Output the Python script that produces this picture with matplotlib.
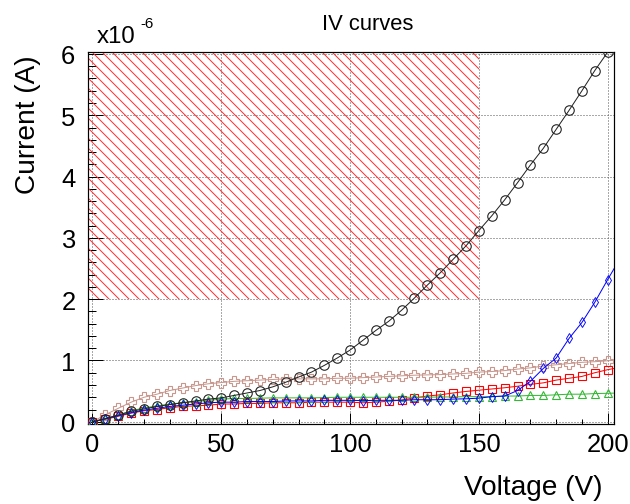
import matplotlib
matplotlib.use("Agg")
import matplotlib.pyplot as plt
from matplotlib.ticker import MultipleLocator, FuncFormatter

# ---------------- data (current in units of 1e-6 A) ----------------
voltage = [0, 5, 10, 15, 20, 25, 30, 35, 40, 45, 50, 55, 60, 65, 70, 75, 80, 85, 90, 95,
           100, 105, 110, 115, 120, 125, 130, 135, 140, 145, 150, 155, 160, 165, 170, 175,
           180, 185, 190, 195, 200]
voltage_ext = voltage + [205]

current_black = [0.0, 0.05, 0.11, 0.17, 0.21, 0.25, 0.28, 0.31, 0.34, 0.37, 0.39, 0.43, 0.47,
                 0.51, 0.57, 0.645, 0.73, 0.81, 0.92, 1.04, 1.17, 1.33, 1.49, 1.64, 1.82,
                 2.02, 2.23, 2.43, 2.65, 2.87, 3.12, 3.36, 3.62, 3.90, 4.19, 4.46, 4.77,
                 5.08, 5.40, 5.73, 6.03]

current_brown = [0.0, 0.115, 0.22, 0.32, 0.40, 0.45, 0.51, 0.55, 0.59, 0.62, 0.64, 0.66, 0.67,
                 0.68, 0.69, 0.70, 0.70, 0.70, 0.70, 0.71, 0.71, 0.72, 0.73, 0.74, 0.75,
                 0.76, 0.765, 0.77, 0.78, 0.79, 0.81, 0.82, 0.835, 0.86, 0.88, 0.91, 0.93,
                 0.95, 0.97, 0.98, 0.995, 1.01]

current_red = [0.0, 0.04, 0.09, 0.14, 0.18, 0.20, 0.23, 0.25, 0.26, 0.27, 0.29, 0.29, 0.30,
               0.30, 0.31, 0.31, 0.31, 0.32, 0.32, 0.32, 0.32, 0.31, 0.32, 0.335, 0.355,
               0.39, 0.42, 0.44, 0.47, 0.495, 0.515, 0.535, 0.555, 0.58, 0.61, 0.635, 0.68,
               0.71, 0.74, 0.80, 0.85, 0.89]

current_green = [0.0, 0.05, 0.11, 0.18, 0.225, 0.26, 0.29, 0.31, 0.33, 0.35, 0.37, 0.38, 0.38,
                 0.385, 0.39, 0.39, 0.39, 0.39, 0.395, 0.40, 0.40, 0.40, 0.40, 0.40, 0.40,
                 0.40, 0.40, 0.405, 0.405, 0.41, 0.41, 0.41, 0.42, 0.42, 0.43, 0.43, 0.44,
                 0.45, 0.45, 0.46, 0.465, 0.47]

current_blue = [0.0, 0.05, 0.10, 0.15, 0.19, 0.22, 0.25, 0.27, 0.29, 0.31, 0.32, 0.32, 0.33,
                0.33, 0.33, 0.34, 0.34, 0.34, 0.35, 0.35, 0.35, 0.345, 0.35, 0.35, 0.35,
                0.36, 0.36, 0.36, 0.37, 0.375, 0.385, 0.41, 0.42, 0.51, 0.66, 0.87, 1.04,
                1.36, 1.62, 1.95, 2.32, 2.68]

# excluded (hatched) region
band_voltage = [-5, 150]
band_current = [2.0, 6.5]

x_ticks = [0, 50, 100, 150, 200]
y_ticks = [0, 1, 2, 3, 4, 5, 6]

# ---------------- styling ----------------
DPI = 120
PT = 72.0 / DPI  # points per pixel

plt.rcParams['font.family'] = ['Liberation Sans', 'DejaVu Sans']
plt.rcParams['hatch.linewidth'] = 1.0 * PT
plt.rcParams['hatch.color'] = '#ff3030'

fig = plt.figure(figsize=(630 / DPI, 505 / DPI), dpi=DPI)
W, H = 630.0, 505.0
ax_l, ax_r, ax_t, ax_b = 87.5, 614.0, 52.7, 424.5
ax = fig.add_axes([ax_l / W, 1 - ax_b / H, (ax_r - ax_l) / W, (ax_b - ax_t) / H])

ax.set_xlim(-1.94, 202.45)
ax.set_ylim(-0.028, 6.037)

# hatched region
ax.fill_between(band_voltage, band_current[0], band_current[1], facecolor='none',
                edgecolor='#ff3030', hatch='\\\\\\\\', linewidth=0, zorder=1)

lw = 1.0 * PT
mew = 1.1 * PT
ax.plot(voltage_ext, current_brown, color='#c8968c', lw=lw, marker='P', ms=10 * PT,
        mfc='none', mec='#c8968c', mew=mew, zorder=3)
ax.plot(voltage_ext, current_red, color='#ff0000', lw=lw, marker='s', ms=8 * PT,
        mfc='none', mec='#ff0000', mew=mew, zorder=4)
ax.plot(voltage_ext, current_green, color='#33b833', lw=lw, marker='^', ms=8 * PT,
        mfc='none', mec='#33b833', mew=mew, zorder=4)
ax.plot(voltage_ext, current_blue, color='#0000ff', lw=lw, marker='d', ms=7 * PT,
        mfc='none', mec='#0000ff', mew=0.9 * PT, zorder=5)
ax.plot(voltage, current_black, color='#222222', lw=lw, marker='o', ms=9.5 * PT,
        mfc='none', mec='#222222', mew=mew, zorder=6)

# axes / ticks
ax.set_xticks(x_ticks)
ax.set_yticks(y_ticks)
ax.xaxis.set_minor_locator(MultipleLocator(10))
ax.yaxis.set_minor_locator(MultipleLocator(0.2))
ax.yaxis.set_major_formatter(FuncFormatter(lambda v, p: f"{v:g}"))
tick_fs = 25.5 * PT
ax.tick_params(axis='both', which='both', direction='in', top=False, right=False,
               width=1.0 * PT, color='black', labelsize=tick_fs)
ax.tick_params(axis='x', which='major', length=11 * PT, pad=8.5 * PT)
ax.tick_params(axis='x', which='minor', length=5.5 * PT)
ax.tick_params(axis='y', which='major', length=15 * PT, pad=12 * PT)
ax.tick_params(axis='y', which='minor', length=7.5 * PT)

ax.grid(True, which='major', linestyle=(0, (1, 2)), color='#555555', linewidth=1.0 * PT)
ax.set_axisbelow(True)
for s in ax.spines.values():
    s.set_linewidth(1.2 * PT)
    s.set_color('black')

label_fs = 28 * PT
ax.set_xlabel('Voltage (V)', fontsize=label_fs, ha='right', va='center')
ax.xaxis.set_label_coords((602 - ax_l) / (ax_r - ax_l), -(488 - ax_b) / (ax_b - ax_t))
ax.set_ylabel('Current (A)', fontsize=label_fs, ha='right', va='center')
ax.yaxis.set_label_coords((28 - ax_l) / (ax_r - ax_l), (ax_b - 55) / (ax_b - ax_t))

# title and exponent
fig.text(368 / W, 1 - 25 / H, 'IV curves', fontsize=22 * PT, ha='center', va='center')
fig.text(97 / W, 1 - 43 / H, 'x10', fontsize=24 * PT, ha='left', va='baseline')
fig.text(140 / W, 1 - 28 / H, '-6', fontsize=15 * PT, ha='left', va='baseline')

fig.savefig('out.png', dpi=DPI)
